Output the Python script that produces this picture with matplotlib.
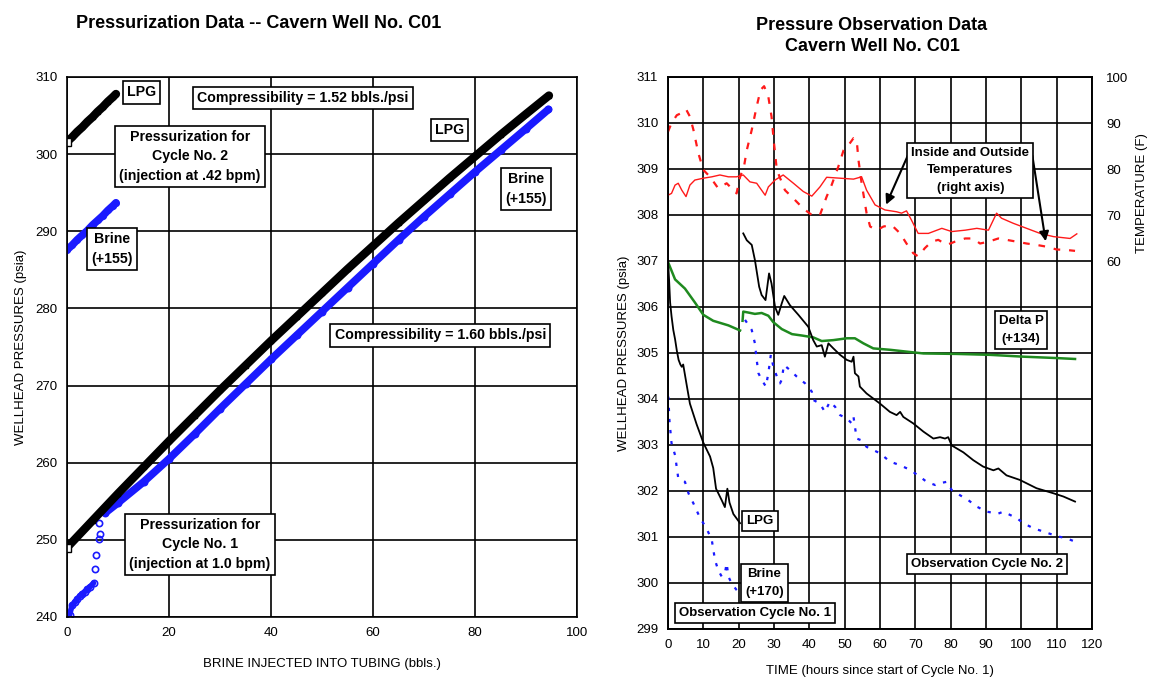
import matplotlib
matplotlib.use("Agg")
import matplotlib.pyplot as plt

plt.rcParams['font.family'] = ['Liberation Sans', 'DejaVu Sans']

# ---------------- Left panel data ----------------
lpg1_x = [0, 5, 10, 15, 20, 25, 30, 35, 40, 45, 50, 55, 60, 65, 70, 75, 80, 85, 90, 94.5]
lpg1_y = [249.0, 252.5, 256.0, 259.4, 262.8, 266.1, 269.4, 272.6, 275.8, 278.9,
          282.0, 285.1, 288.1, 291.1, 294.0, 296.9, 299.7, 302.5, 305.2, 307.6]
lpg2_x = [0, 1, 2, 3, 4, 5, 6, 7, 8, 9, 9.6]
lpg2_y = [301.6, 302.2, 302.9, 303.5, 304.2, 304.8, 305.5, 306.1, 306.8, 307.4, 307.8]

brine1_x = [0.5, 1.0, 1.5, 2.0, 2.5, 3.0, 3.5, 4.0, 4.5, 5.2, 5.4, 5.6, 6.3, 6.5, 6.3,
            7.5, 10, 15, 20, 25, 30, 35, 40, 45, 50, 55, 60, 65, 70, 75, 80, 85, 90, 94.4]
brine1_y = [240.3, 241.5, 241.9, 242.3, 242.7, 243.0, 243.3, 243.6, 243.9, 244.4, 246.2,
            248.1, 250.1, 250.8, 252.2,
            253.5, 254.8, 257.5, 260.5, 263.7, 267.0, 270.2, 273.4, 276.5, 279.6,
            282.7, 285.8, 288.9, 291.9, 294.8, 297.7, 300.5, 303.3, 305.8]
brine2_x = [0, 1, 2, 3, 4, 5, 6, 7, 8, 9, 9.6]
brine2_y = [287.6, 288.2, 288.9, 289.5, 290.1, 290.8, 291.4, 292.0, 292.7, 293.3, 293.7]

# ---------------- Right panel data ----------------
lpg_c1_t = [0, 0.3, 0.6, 1.0, 1.5, 2.0, 2.5, 3.0, 3.5, 3.9, 4.3, 5.3, 6.2, 8.1, 10.0,
            11.9, 12.8, 13.6, 15.2, 16.1, 16.8, 17.4, 18.5, 20.4]
lpg_c1_p = [307.0, 306.6, 306.1, 305.8, 305.5, 305.3, 305.05, 304.85, 304.75, 304.7,
            304.75, 304.3, 303.9, 303.45, 303.05, 302.75, 302.5, 302.05, 301.8, 301.65,
            302.05, 301.75, 301.5, 301.3]
lpg_c2_t = [21.3, 22.3, 23.7, 24.6, 25.8, 26.5, 27.6, 28.6, 29.3, 30.3, 31.2, 32.2, 32.9,
            34.5, 36.9, 39.7, 41.1, 42.1, 43.5, 44.4, 45.4, 46.8, 48.7, 50.6, 52.0, 52.5,
            52.9, 53.9, 54.3, 56.2, 58.1, 60.0, 62.8, 64.7, 65.7, 66.6, 69.4, 72.3, 75.1,
            77.0, 78.4, 79.3, 80.3, 83.6, 86.4, 89.2, 92.1, 93.5, 95.8, 99.6, 104.3,
            109.1, 111.9, 115.2]
lpg_c2_p = [307.6, 307.45, 307.35, 307.02, 306.44, 306.26, 306.15, 306.73, 306.51, 306.0,
            305.83, 306.08, 306.24, 306.04, 305.83, 305.57, 305.28, 305.14, 305.17,
            304.92, 305.21, 305.1, 304.96, 304.85, 304.81, 304.92, 304.56, 304.49,
            304.27, 304.12, 304.01, 303.9, 303.72, 303.65, 303.72, 303.61, 303.47,
            303.29, 303.14, 303.17, 303.14, 303.17, 302.99, 302.84, 302.67, 302.53,
            302.45, 302.49, 302.34, 302.24, 302.06, 301.95, 301.88, 301.77]

brine_c1_t = [0.1, 0.4, 1.0, 2.0, 2.9, 3.9, 4.8, 5.8, 7.2, 9.1, 10.9, 12.4, 13.3, 14.2,
              15.2, 16.1, 16.6, 17.1, 18.0, 19.4, 20.4]
brine_c1_p = [304.05, 303.54, 303.04, 302.78, 302.28, 302.24, 302.2, 301.95, 301.73,
              301.41, 301.19, 300.93, 300.5, 300.28, 300.14, 300.21, 300.43, 300.14,
              299.99, 299.85, 299.78]
brine_c2_t = [21.8, 23.7, 24.6, 25.1, 25.6, 26.5, 27.7, 28.4, 29.1, 29.8, 30.8, 31.7,
              32.2, 32.8, 34.5, 36.4, 38.8, 40.7, 41.1, 43.0, 44.4, 45.8, 47.3, 48.7,
              50.6, 52.0, 52.5, 53.4, 54.8, 56.2, 58.1, 60.0, 62.8, 65.7, 68.5, 71.3,
              73.2, 75.6, 77.0, 78.9, 80.3, 82.6, 85.0, 87.4, 90.2, 93.5, 94.9, 96.8,
              98.7, 100.6, 103.4, 106.2, 110.0, 112.8, 115.2]
brine_c2_p = [305.72, 305.5, 305.21, 304.85, 304.56, 304.42, 304.27, 304.56, 304.96,
              304.71, 304.49, 304.34, 304.42, 304.74, 304.63, 304.49, 304.34, 304.16,
              303.98, 303.9, 303.72, 303.94, 303.83, 303.65, 303.58, 303.47, 303.61,
              303.14, 303.1, 302.96, 302.89, 302.82, 302.64, 302.56, 302.46, 302.31,
              302.2, 302.13, 302.17, 302.2, 302.02, 301.91, 301.8, 301.66, 301.55,
              301.51, 301.55, 301.48, 301.41, 301.3, 301.19, 301.12, 301.02, 300.97,
              300.9]

dp_c1_t = [0.1, 2.0, 4.8, 7.6, 10.0, 12.8, 17.1, 20.4]
dp_c1_p = [306.96, 306.6, 306.4, 306.1, 305.83, 305.7, 305.6, 305.49]
dp_c2_t = [21.1, 21.3, 22.7, 24.6, 26.5, 28.4, 29.8, 32.2, 35.1, 37.9, 41.1, 43.5, 46.8,
           50.6, 52.9, 55.3, 58.1, 62.8, 67.5, 72.3, 81.7, 91.1, 100.6, 110.0, 115.2]
dp_c2_p = [305.7, 305.9, 305.88, 305.85, 305.87, 305.81, 305.67, 305.52, 305.41, 305.38,
           305.34, 305.26, 305.28, 305.32, 305.32, 305.21, 305.1, 305.07, 305.03,
           304.99, 304.98, 304.96, 304.92, 304.89, 304.87]

t_out_h = [0, 1, 2.5, 3.9, 5.1, 6.2, 7.2, 8.6, 10, 11.9, 14.2, 16.6, 19.4, 20.4, 21.5,
           22.3, 23.7, 25.1, 26.2, 27.2, 28.4, 29.3, 30, 30.8, 33.1, 35.5, 38.3, 40.7,
           43, 44.9, 46.3, 48.2, 49.7, 51.1, 52.5, 53.4, 53.9, 54.8, 56.2, 57.2, 59.1,
           61, 63.3, 65.7, 67.5, 69.4, 70.8, 72.7, 74.6, 76.5, 78.9, 81.2, 84.1, 86.4,
           88.3, 90.7, 93.5, 95.8, 98.7, 101.5, 104.3, 107.2, 110, 112.8, 115.2]
t_out_f = [88.1, 90, 91.7, 92.2, 93, 91.4, 88.5, 83.4, 79.8, 78.3, 75.8, 76.9, 74.7, 78.3,
           80.5, 84.1, 88.5, 93.6, 97.2, 98, 95.7, 91.4, 85.6, 79.8, 75.4, 73.6, 71.4,
           70, 70, 74, 76.5, 80.5, 84.1, 85.2, 86.7, 86.3, 82, 76.9, 70.4, 67.5, 66.7,
           67.5, 67.8, 66, 63.8, 61.7, 61, 62.8, 64.2, 64.6, 63.5, 64.2, 64.9, 64.9,
           63.8, 64.2, 64.9, 64.6, 64.2, 63.8, 63.5, 63.1, 62.5, 62.4, 62.2]
t_in_h = [0, 1, 2, 2.9, 3.9, 5.1, 6.2, 7.6, 10, 12.4, 14.7, 17.1, 19.4, 21.3, 23.2, 25.1,
          27.5, 28.4, 30.3, 32.6, 35.5, 38.3, 40.7, 43, 44.9, 48.7, 52.5, 54.8, 56.2,
          58.6, 61.4, 64.7, 66.1, 67.5, 68.9, 70.8, 73.7, 77.5, 80.3, 84.1, 87.4, 90.7,
          93, 94.4, 97.7, 101.5, 105.3, 109.1, 113.8, 115.7]
t_in_f = [74.3, 74.7, 76.5, 76.9, 75.4, 74, 76.5, 77.6, 78, 78.3, 78.7, 78.3, 78.3, 78.7,
          77.2, 76.9, 74.3, 76.1, 77.6, 78.7, 76.9, 75.1, 74.1, 76.1, 78.2, 78, 77.8,
          78.3, 75.4, 72.2, 71.1, 70.7, 70.4, 70.9, 68.9, 66, 66, 67.1, 66.4, 66.7,
          67.1, 66.7, 70.4, 69.3, 68.2, 67.1, 66, 65.3, 64.9, 65.9]

left_xticks = [0, 20, 40, 60, 80, 100]
left_yticks = [240, 250, 260, 270, 280, 290, 300, 310]
right_xticks = list(range(0, 121, 10))
right_yticks = list(range(299, 312))
temp_ticks = [60, 70, 80, 90, 100]

W, H = 1149, 679
fig = plt.figure(figsize=(W / 100, H / 100), dpi=100)

BOX = dict(boxstyle='square,pad=0.3', fc='white', ec='black', lw=1.2)

def box(ax, x, y, s, fs=10.2, **kw):
    ax.text(x, y, s, ha='center', va='center', fontsize=fs, fontweight='bold',
            linespacing=1.5, zorder=10, bbox=BOX, **kw)

# ---------------- Left panel ----------------
axL = fig.add_axes([67 / W, 1 - 617 / H, (577 - 67) / W, (617 - 77) / H])
axL.set_xlim(0, 100)
axL.set_ylim(240, 310)
axL.set_xticks(left_xticks)
axL.set_yticks(left_yticks)
axL.grid(True, color='black', lw=1.2)
axL.set_axisbelow(True)
for sp in axL.spines.values():
    sp.set_linewidth(1.2)
axL.tick_params(length=0, labelsize=9.5, pad=7)

BLUE = '#1a1aff'
axL.plot(brine1_x[15:], brine1_y[15:], color=BLUE, lw=5.5, solid_capstyle='round')
axL.plot(brine1_x[:10], brine1_y[:10], color=BLUE, lw=4, solid_capstyle='round')
axL.plot(brine1_x, brine1_y, ls='none', marker='o', ms=4.5, mfc='none', mec=BLUE, mew=1.2)
axL.plot(brine2_x, brine2_y, color=BLUE, lw=5.5, solid_capstyle='round')
axL.plot(brine2_x, brine2_y, ls='none', marker='o', ms=4.0, mfc='none', mec=BLUE, mew=1.0)
axL.plot(lpg1_x, lpg1_y, color='black', lw=6, solid_capstyle='round')
axL.plot(lpg1_x, lpg1_y, ls='none', marker='s', ms=3.5, mfc='none', mec='black', mew=1.0)
axL.plot(lpg2_x, lpg2_y, color='black', lw=6, solid_capstyle='round')
axL.plot(lpg2_x, lpg2_y, ls='none', marker='s', ms=3.5, mfc='none', mec='black', mew=1.0)
axL.plot([lpg1_x[0]], [lpg1_y[0]], ls='none', marker='s', ms=6, mfc='white', mec='black')
axL.plot([lpg2_x[0]], [lpg2_y[0]], ls='none', marker='s', ms=6, mfc='white', mec='black')

axL.set_xlabel('BRINE INJECTED INTO TUBING (bbls.)', fontsize=9.5, labelpad=14)
axL.set_ylabel('WELLHEAD PRESSURES (psia)', fontsize=9.5, labelpad=6)

box(axL, 14.6, 308.0, 'LPG')
box(axL, 46.3, 307.3, 'Compressibility = 1.52 bbls./psi')
box(axL, 24.1, 299.7, 'Pressurization for\nCycle No. 2\n(injection at .42 bpm)')
box(axL, 8.9, 287.7, 'Brine\n(+155)')
box(axL, 75.0, 303.1, 'LPG')
box(axL, 90.0, 295.5, 'Brine\n(+155)')
box(axL, 73.2, 276.5, 'Compressibility = 1.60 bbls./psi')
box(axL, 26.1, 249.4, 'Pressurization for\nCycle No. 1\n(injection at 1.0 bpm)')

fig.text(259 / W, 1 - 23 / H, 'Pressurization Data -- Cavern Well No. C01',
         ha='center', va='center', fontsize=13, fontweight='bold')

# ---------------- Right panel ----------------
axR = fig.add_axes([668 / W, 1 - 629 / H, (1092 - 668) / W, (629 - 77) / H])
axR.set_xlim(0, 120)
axR.set_ylim(299, 311)
axR.set_xticks(right_xticks)
axR.set_yticks(right_yticks)
axR.grid(True, color='black', lw=1.2)
axR.set_axisbelow(True)
for sp in axR.spines.values():
    sp.set_linewidth(1.2)
axR.tick_params(length=0, labelsize=9.5, pad=7)

GREEN = '#1f8a1f'
axR.plot(dp_c1_t, dp_c1_p, color=GREEN, lw=1.8)
axR.plot(dp_c2_t, dp_c2_p, color=GREEN, lw=1.8)
axR.plot(lpg_c1_t, lpg_c1_p, color='black', lw=1.3)
axR.plot(lpg_c2_t, lpg_c2_p, color='black', lw=1.3)
axR.plot(brine_c1_t, brine_c1_p, color=BLUE, lw=1.6, ls=(0, (1.5, 3.5)))
axR.plot(brine_c2_t, brine_c2_p, color=BLUE, lw=1.6, ls=(0, (1.5, 3.5)))

axR.set_xlabel('TIME (hours since start of Cycle No. 1)', fontsize=9.5, labelpad=10)
axR.set_ylabel('WELLHEAD PRESSURES (psia)', fontsize=9.5, labelpad=4)

ax2 = axR.twinx()
ax2.set_ylim(-20, 100)
ax2.set_yticks(temp_ticks)
ax2.tick_params(length=0, labelsize=9.5, pad=10)
for sp in ax2.spines.values():
    sp.set_linewidth(1.2)
ax2.plot(t_out_h, t_out_f, color='#ff1a1a', lw=1.6, ls=(0, (3, 4)))
ax2.plot(t_in_h, t_in_f, color='#ff1a1a', lw=1.0)
ax2.set_ylabel('TEMPERATURE (F)', fontsize=9.5)
ax2.yaxis.set_label_coords(1.103, 0.79)

tr = axR.transData
ax2.annotate('', xy=(61.4, 308.17), xytext=(68.2, 309.35), xycoords=tr, textcoords=tr,
             arrowprops=dict(arrowstyle='-|>', color='black', lw=1.5, mutation_scale=14),
             zorder=9)
ax2.annotate('', xy=(107, 307.37), xytext=(103, 309.35), xycoords=tr, textcoords=tr,
             arrowprops=dict(arrowstyle='-|>', color='black', lw=1.5, mutation_scale=14),
             zorder=9)
ax2.text(85.6, 308.97, 'Inside and Outside\nTemperatures\n(right axis)', transform=tr,
         ha='center', va='center', fontsize=9.5, fontweight='bold', linespacing=1.6,
         zorder=10, bbox=BOX)
for (x, y, s) in [(99.9, 305.5, 'Delta P\n(+134)'), (26.0, 301.34, 'LPG'),
                  (27.3, 300.0, 'Brine\n(+170)'), (24.6, 299.35, 'Observation Cycle No. 1'),
                  (90.3, 300.41, 'Observation Cycle No. 2')]:
    ax2.text(x, y, s, transform=tr, ha='center', va='center', fontsize=9.5,
             fontweight='bold', linespacing=1.6, zorder=10, bbox=BOX)

fig.text(872 / W, 1 - 36 / H, 'Pressure Observation Data\nCavern Well No. C01',
         ha='center', va='center', fontsize=13, fontweight='bold', linespacing=1.3)

fig.savefig('out.png', dpi=100)
